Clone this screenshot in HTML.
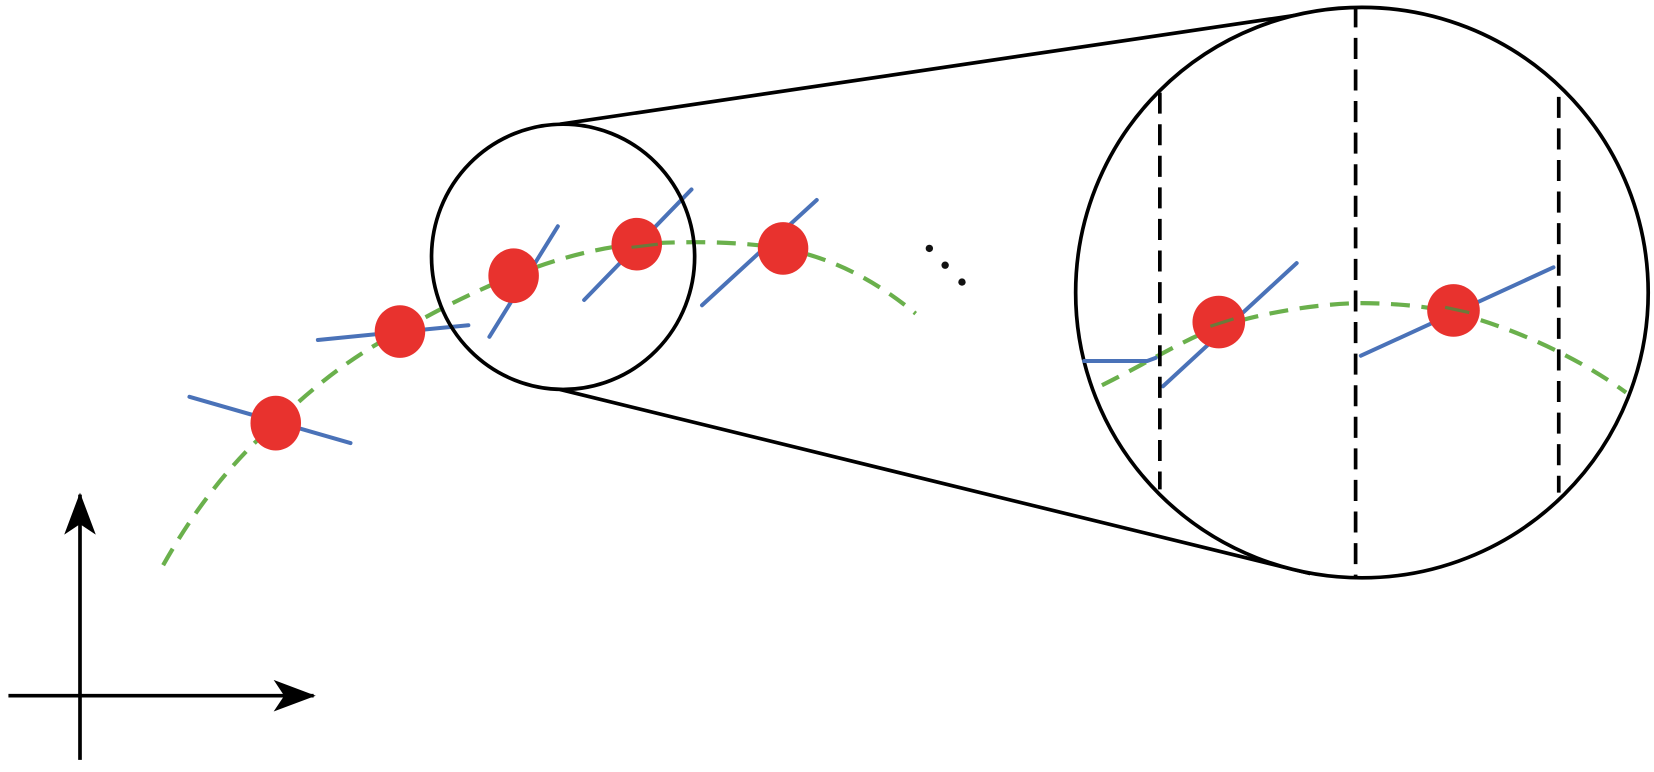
<!DOCTYPE html>
<html><head><meta charset="utf-8"><style>html,body{margin:0;padding:0;background:#fff}svg{display:block}</style></head>
<body>
<svg width="1654" height="772" viewBox="0 0 1571.5 733.5" xmlns="http://www.w3.org/2000/svg">
<defs>
<marker id="ah" viewBox="0 0 40 30" refX="38" refY="15" markerWidth="40" markerHeight="30" markerUnits="userSpaceOnUse" orient="auto">
<path d="M0,0 L40,15 L0,30 L10,15 Z" fill="#000"/>
</marker>
</defs>
<line x1="76" y1="722" x2="76" y2="470" stroke="#000" stroke-width="3.5" marker-end="url(#ah)"/>
<line x1="8" y1="661" x2="298" y2="661" stroke="#000" stroke-width="3.5" marker-end="url(#ah)"/>
<path d="M155,537 C190,475 225,435 262,402 C300,365 340,335 380,315 C420,292 455,275 488,262 C530,245 570,235 605,232 C650,229 700,229 744,236 C790,245 830,265 870,298" fill="none" stroke="#6ab04c" stroke-width="4" stroke-dasharray="18,11"/>
<g stroke="#4a72b8" stroke-width="3.8" stroke-linecap="round">
<line x1="180" y1="377" x2="333" y2="421"/>
<line x1="302" y1="323" x2="445" y2="309"/>
<line x1="465" y1="320" x2="530" y2="215"/>
<line x1="555" y1="285" x2="657" y2="180"/>
<line x1="667" y1="290" x2="776" y2="190"/>
</g>
<g fill="#e8322e">
<ellipse cx="262" cy="402" rx="24" ry="26"/>
<ellipse cx="380" cy="315" rx="24" ry="25"/>
<ellipse cx="488" cy="262" rx="24" ry="26"/>
<ellipse cx="605" cy="232" rx="24" ry="25"/>
<ellipse cx="744" cy="236" rx="24" ry="25"/>
</g>
<line x1="600" y1="235" x2="625" y2="232" stroke="#6a7a3a" stroke-width="3"/>
<g fill="#111"><circle cx="883" cy="236" r="3.5"/><circle cx="898" cy="252" r="3.5"/><circle cx="914" cy="268" r="3.5"/></g>
<ellipse cx="535" cy="244" rx="125" ry="126" fill="none" stroke="#000" stroke-width="3.5"/>
<line x1="532" y1="118" x2="1275" y2="8" stroke="#000" stroke-width="3.5"/>
<line x1="532" y1="370" x2="1245" y2="545" stroke="#000" stroke-width="3.5"/>
<ellipse cx="1294" cy="278" rx="272" ry="271" fill="#fff" stroke="#000" stroke-width="3.5"/>
<path d="M1047,366 C1090,345 1125,322 1160,310 C1200,297 1250,289 1290,288 C1330,288 1360,292 1382,297 C1440,312 1500,340 1545,373" fill="none" stroke="#6ab04c" stroke-width="4" stroke-dasharray="18,11"/>
<g stroke="#4a72b8" stroke-width="3.8" stroke-linecap="round">
<polyline points="1030,343 1090,343 1098,340" fill="none"/>
<line x1="1105" y1="367" x2="1232" y2="250"/>
<line x1="1293" y1="338" x2="1476" y2="254"/>
</g>
<circle cx="1158" cy="306" r="25" fill="#e8322e"/>
<circle cx="1381" cy="295" r="25" fill="#e8322e"/>
<line x1="1150" y1="310" x2="1172" y2="303" stroke="#6a7a3a" stroke-width="3"/>
<line x1="1373" y1="292" x2="1396" y2="297" stroke="#6a7a3a" stroke-width="3"/>
<g stroke="#000" stroke-width="3.5" stroke-dasharray="20,10">
<line x1="1102" y1="88" x2="1102" y2="465"/>
<line x1="1288" y1="6" x2="1288" y2="549"/>
<line x1="1481" y1="92" x2="1481" y2="468"/>
</g>
</svg>
</body></html>
